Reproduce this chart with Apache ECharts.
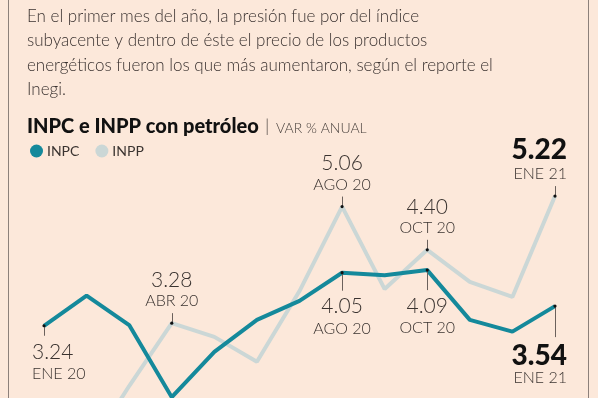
<!DOCTYPE html>
<html>
<head>
<meta charset="utf-8">
<script src="https://cdn.jsdelivr.net/npm/echarts@6/dist/echarts.min.js"></script>
<style>
    html, body { margin: 0; padding: 0; background: #fce8da; }
    #main { width: 598px; height: 398px; }
</style>
</head>
<body>
<div id="main"></div>
<script>
// datos: variación % anual
var months = ['ENE 20', 'FEB 20', 'MAR 20', 'ABR 20', 'MAY 20', 'JUN 20', 'JUL 20',
              'AGO 20', 'SEP 20', 'OCT 20', 'NOV 20', 'DIC 20', 'ENE 21'];
var inpc = [3.24, 3.70, 3.25, 2.15, 2.84, 3.33, 3.62, 4.05, 4.01, 4.09, 3.33, 3.15, 3.54];
var inpp = [1.90, 1.30, 2.32, 3.28, 3.07, 2.69, 3.77, 5.06, 3.80, 4.40, 3.91, 3.68, 5.22];

var intro = [
    'En el primer mes del año, la presión fue por del índice',
    'subyacente y dentro de éste el precio de los productos',
    'energéticos fueron los que más aumentaron, según el reporte el',
    'Inegi.'
];

// puntos destacados: serie, índice del mes
var calloutSeries = ['INPC', 'INPP', 'INPP', 'INPC', 'INPP', 'INPC', 'INPP', 'INPC'];
var calloutIndex  = [0, 3, 7, 7, 9, 9, 12, 12];

var chart = echarts.init(document.getElementById('main'));
var textColor = '#3a3230';
var font = 'Lato, "Open Sans", sans-serif';

var option = {
    animation: false,
    backgroundColor: '#fce8da',
    // la gráfica está recortada por abajo: el eje no llega al mínimo de INPP
    grid: { left: 44, right: 43, top: 145, bottom: 0 },
    legend: {
        left: 25, top: 139,
        itemWidth: 13, itemHeight: 13, itemGap: 16,
        icon: 'circle',
        data: ['INPC', 'INPP'],
        textStyle: { color: '#3a3330', fontSize: 14, fontFamily: font, padding: [0, 0, 0, -1] }
    },
    xAxis: {
        type: 'category', data: months, boundaryGap: false, show: false
    },
    yAxis: {
        type: 'value', min: 2.137, max: 6, show: false
    },
    series: [
        {
            name: 'INPP', type: 'line', data: inpp, symbol: 'none', clip: false,
            lineStyle: { width: 4, color: '#cbd7d6' }, itemStyle: { color: '#cbd7d6' },
            z: 2
        },
        {
            name: 'INPC', type: 'line', data: inpc, symbol: 'none', clip: false,
            lineStyle: { width: 4, color: '#14899b' }, itemStyle: { color: '#14899b' },
            z: 3
        }
    ]
};
chart.setOption(option);

// textos y anotaciones
var g = [];
// marco
g.push({ type: 'line', shape: { x1: 8.5, y1: 0, x2: 8.5, y2: 398 }, style: { stroke: '#8c807a', lineWidth: 1 } });
g.push({ type: 'line', shape: { x1: 588.5, y1: 0, x2: 588.5, y2: 398 }, style: { stroke: '#8c807a', lineWidth: 1 } });

intro.forEach(function(line, i) {
    g.push({
        type: 'text', left: 27, top: 8 + i * 24.5,
        style: { text: line, fill: textColor, font: '300 17px ' + font }
    });
});
g.push({
    type: 'text', left: 27, top: 117,
    style: { text: 'INPC e INPP con petróleo', fill: '#111', font: '900 20px ' + font }
});
g.push({
    type: 'text', left: 265, top: 117,
    style: { text: '|', fill: '#4a423e', font: '300 18px ' + font }
});
g.push({
    type: 'text', left: 276, top: 121,
    style: { text: 'VAR % ANUAL', fill: '#4a423e', font: '300 14px ' + font }
});

// layout de cada anotación (posición relativa al punto)
var layout = [
    { dir: 1, tick: 10, align: 'left', x: 32, bold: false },
    { dir: -1, tick: 10, align: 'center', bold: false },
    { dir: -1, tick: 10, align: 'center', bold: false },
    { dir: 1, tick: 18, align: 'center', bold: false },
    { dir: -1, tick: 10, align: 'center', bold: false },
    { dir: 1, tick: 20, align: 'center', bold: false },
    { dir: -1, tick: 10, align: 'right', x: 567, bold: true },
    { dir: 1, tick: 31, align: 'right', x: 567, bold: true }
];

calloutIndex.forEach(function(idx, k) {
    var name = calloutSeries[k];
    var vals = name === 'INPC' ? inpc : inpp;
    var sIdx = name === 'INPC' ? 1 : 0;
    var p = chart.convertToPixel({ seriesIndex: sIdx }, [idx, vals[idx]]);
    var L = layout[k];
    var tx = L.x !== undefined ? L.x : p[0];
    var valFont = L.bold ? '900 28px ' + font : '300 21px ' + font;
    var valColor = L.bold ? '#111' : '#3a3330';
    var monFont = '300 16px ' + font;
    var tickEnd = p[1] + L.dir * L.tick;
    g.push({ type: 'line', shape: { x1: Math.round(p[0]) + 0.5, y1: p[1], x2: Math.round(p[0]) + 0.5, y2: tickEnd },
             style: { stroke: '#6b615c', lineWidth: 1 }, z: 10 });
    g.push({ type: 'circle', shape: { cx: p[0], cy: p[1], r: 1.6 }, style: { fill: '#111' }, z: 11 });
    var valY, monY;
    if (L.dir > 0) {
        valY = tickEnd + (L.bold ? 19 : 16);
        monY = valY + 22;
    } else {
        monY = tickEnd - 12;
        valY = monY - (L.bold ? 24 : 21);
    }
    g.push({ type: 'text', x: tx, y: valY, z: 10,
             style: { text: vals[idx].toFixed(2), fill: valColor, font: valFont, textAlign: L.align, textVerticalAlign: 'middle' } });
    g.push({ type: 'text', x: tx, y: monY, z: 10,
             style: { text: months[idx], fill: '#3a3330', font: monFont, textAlign: L.align, textVerticalAlign: 'middle' } });
});

chart.setOption({ graphic: g });
</script>
</body>
</html>
